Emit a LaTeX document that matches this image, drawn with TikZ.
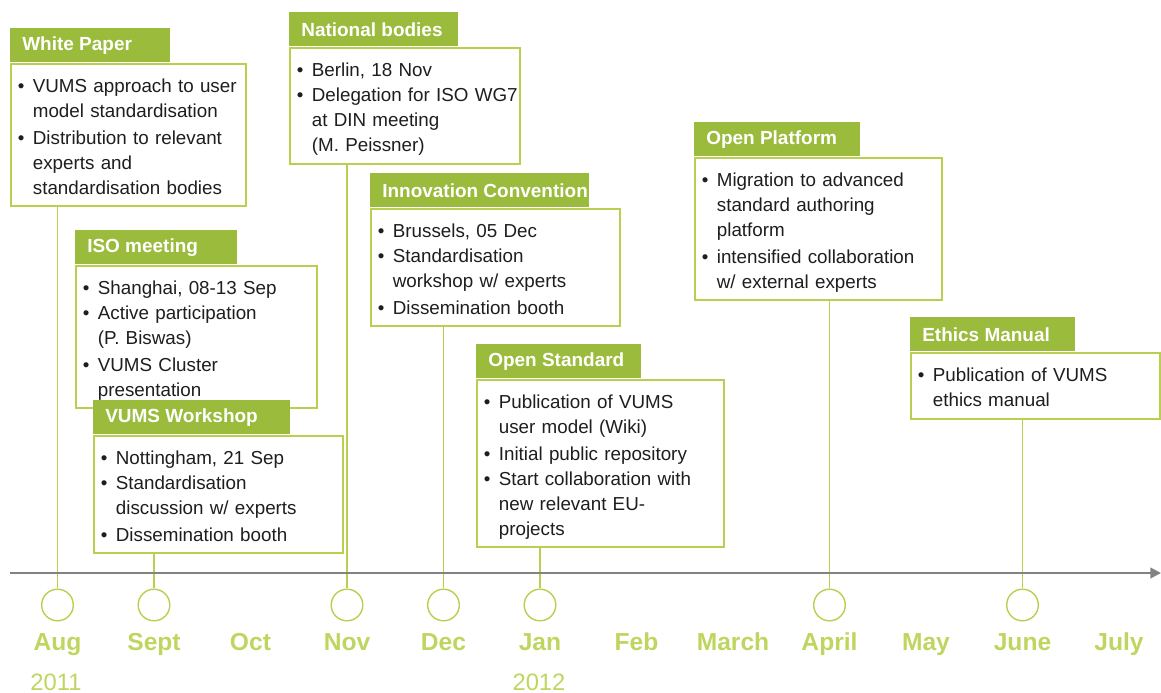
\documentclass[tikz,border=0pt]{standalone}
\usepackage{fontspec}
\setmainfont{Liberation Sans}
\usepackage{tikz}
\usetikzlibrary{arrows.meta}
\definecolor{tabgreen}{RGB}{155,187,60}
\definecolor{linegreen}{RGB}{184,207,80}
\definecolor{monthgreen}{RGB}{190,214,95}
\definecolor{axisgray}{RGB}{130,130,130}
\definecolor{bodytext}{RGB}{30,30,30}
\newcommand{\pxsize}{0.02cm}
% one bullet point, its lines given with \\
\newcommand{\itm}[1]{\par\noindent\hspace*{1.7pt}\makebox[8.5pt][l]{\textbullet}\begin{tabular}[t]{@{}l@{}}#1\end{tabular}}
% name, x, y, tab width, card width, title, bullet points
\newcommand{\makeevent}[7]{
	\pgfmathsetmacro{\tabw}{#4*0.5669}
	\pgfmathsetmacro{\cardw}{(#5-8)*0.5669}
	\node[tab, minimum width=\tabw pt] (#1tab) at (#2,#3) {};
	\node[tabtitle] (#1title) at (#1tab.west) {#6};
	\node[card, text width=\cardw pt] (#1) at (#1tab.south west) {#7};
}

\begin{document}
\begin{tikzpicture}[x=\pxsize,y=-\pxsize,
	tab/.style={fill=tabgreen, inner sep=0pt, minimum height=19.3pt, anchor=north west},
	tabtitle/.style={anchor=west, inner xsep=6.8pt, text=white, font=\fontsize{10.8}{13}\selectfont\bfseries},
	card/.style={draw=linegreen, line width=1.1pt, fill=white, anchor=north west, inner xsep=2.27pt, inner ysep=2.5pt, align=left, text=bodytext, font=\fontsize{10.7}{14.2}\selectfont},
	dot/.style={circle, draw=linegreen, line width=0.8pt, fill=white, minimum size=18pt, inner sep=0pt},
	link/.style={draw=linegreen, line width=1.1pt},
	axis/.style={draw=axisgray, line width=1.1pt, -{Triangle[length=6pt,width=6pt]}},
	month/.style={anchor=base, text=monthgreen, font=\fontsize{14}{16}\selectfont\bfseries},
	year/.style={anchor=base, text=monthgreen, font=\fontsize{13.5}{16}\selectfont}]
	\useasboundingbox (0,0) rectangle (1161,693);

	\makeevent{wp}{10}{28}{160}{236}{White Paper}{%
		\itm{VUMS approach to user\\model standardisation}
		\itm{Distribution to relevant\\experts and\\standardisation bodies}}
	\makeevent{nb}{289}{12}{169}{231}{National bodies}{%
		\itm{Berlin, 18 Nov}
		\itm{Delegation for ISO WG7\\at DIN meeting\\(M. Peissner)}}
	\makeevent{iso}{75}{230}{162}{242}{ISO meeting}{%
		\itm{Shanghai, 08-13 Sep}
		\itm{Active participation\\(P. Biswas)}
		\itm{VUMS Cluster\\presentation}}
	\makeevent{ws}{93}{400}{197}{250}{VUMS Workshop}{%
		\itm{Nottingham, 21 Sep}
		\itm{Standardisation\\discussion w/ experts}
		\itm{Dissemination booth}}
	\makeevent{ic}{370}{173}{220}{250}{Innovation Convention}{%
		\itm{Brussels, 05 Dec}
		\itm{Standardisation\\workshop w/ experts}
		\itm{Dissemination booth}}
	\makeevent{os}{476}{344}{165}{248}{Open Standard}{%
		\itm{Publication of VUMS\\user model (Wiki)}
		\itm{Initial public repository}
		\itm{Start collaboration with\\new relevant EU-\\projects}}
	\makeevent{op}{694}{122}{166}{248}{Open Platform}{%
		\itm{Migration to advanced\\standard authoring\\platform}
		\itm{intensified collaboration\\w/ external experts}}
	\makeevent{em}{910}{317}{165}{250}{Ethics Manual}{%
		\itm{Publication of VUMS\\ethics manual}}

	% months along the axis
	\foreach \m [count=\i from 0] in {Aug,Sept,Oct,Nov,Dec,Jan,Feb,March,April,May,June,July}
		\node[month] (mon\i) at (57.5+96.5*\i,650) {\m};
	\foreach \i in {0,1,3,4,5,8,10}
		\node[dot] (c\i) at (57.5+96.5*\i,605) {};
	\node[year] (y2011) at (56,690) {2011};
	\node[year] (y2012) at (539,690) {2012};

	\draw[link] (c0.north) -- (c0.north |- wp.south);
	\draw[link] (c1.north) -- (c1.north |- ws.south);
	\draw[link] (c3.north) -- (c3.north |- nb.south);
	\draw[link] (c4.north) -- (c4.north |- ic.south);
	\draw[link] (c5.north) -- (c5.north |- os.south);
	\draw[link] (c8.north) -- (c8.north |- op.south);
	\draw[link] (c10.north) -- (c10.north |- em.south);

	\coordinate (axstart) at (10,573);
	\coordinate (axend) at (1161,573);
	\draw[axis] (axstart) -- (axend);
\end{tikzpicture}
\end{document}
